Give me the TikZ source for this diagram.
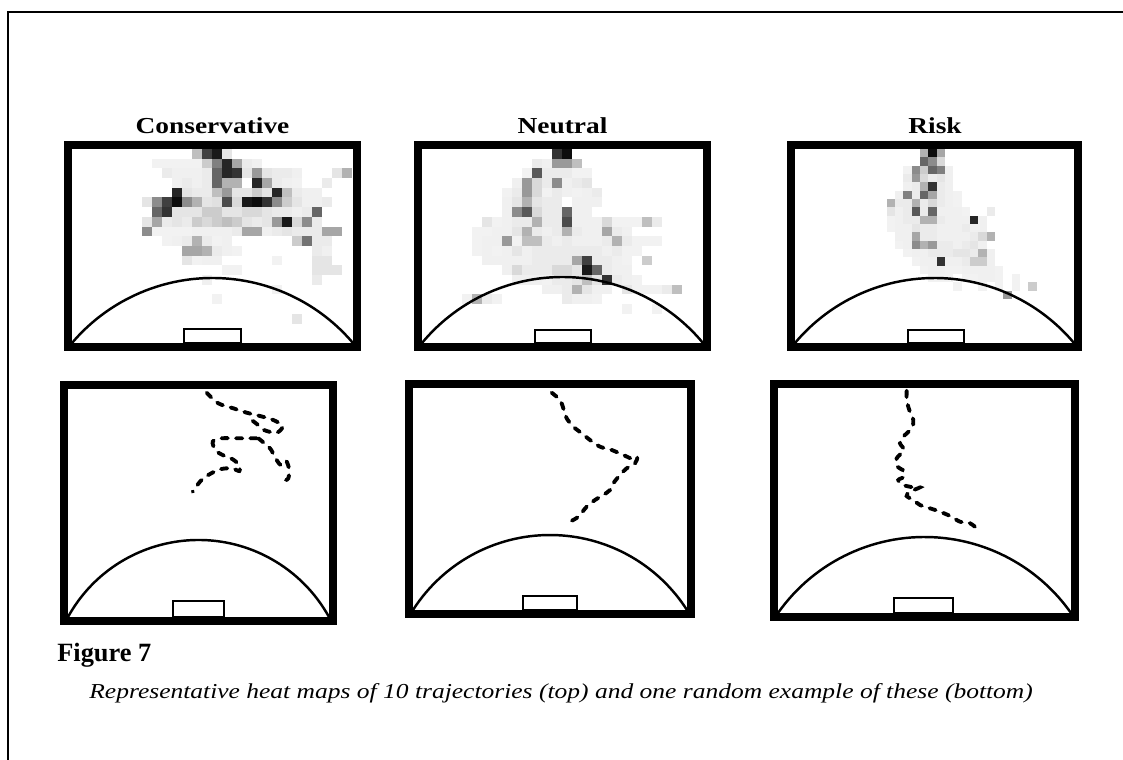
\documentclass[tikz,border=0pt]{standalone}
\usepackage{fontspec}
\setmainfont{Liberation Serif}
\newfontfamily\widefont{Liberation Serif}[FakeStretch=1.2]
\usepackage{tikz}
\definecolor{inkblack}{RGB}{0,0,0}

\begin{document}
\begin{tikzpicture}[x=0.02cm, y=-0.02cm,
        outerframe/.style={line width=0.85pt, inkblack},
        pitchborder/.style={line width=4.5pt, inkblack},
        pitcharc/.style={line width=1.4pt, inkblack},
        goalbox/.style={line width=1.1pt, inkblack},
        traj/.style={line width=2.2pt, inkblack, line cap=round, dash pattern=on 3.6pt off 4.6pt},
        paneltitle/.style={font=\widefont\fontsize{13}{15}\selectfont\bfseries, anchor=base, inner sep=0pt}]
        \useasboundingbox (0,0) rectangle (1123,760);

        % 外框
        \draw[outerframe] (8,760) -- (8,12) -- (1123,12);

        % 热力图 Conservative
        \begin{scope}
            \clip (72,149) rectangle (353,343);
            \foreach \cx/\ry/\lv in {8/1/5, 9/1/5, 17/1/8, 18/1/6, 10/2/6, 11/2/6, 12/2/6, 13/2/8, 17/2/10, 22/2/6,
                10/3/6, 12/3/6, 13/3/8, 20/3/8, 21/3/6, 22/3/5, 12/4/8, 13/4/8, 16/4/10, 17/4/10, 22/4/8, 23/4/6,
                24/4/6, 14/5/12, 23/5/6, 24/5/6, 25/5/8, 15/6/10, 19/6/10, 20/6/8, 21/6/8, 22/6/6, 23/6/8,
                9/7/8, 11/7/8, 18/7/8, 19/7/10, 24/7/8, 12/8/6, 13/8/6, 14/8/6, 15/8/6, 16/8/8, 19/8/6, 20/8/8,
                22/8/8, 23/8/8, 24/8/8, 10/9/6, 11/9/8, 13/9/8, 15/9/6, 24/9/8, 25/9/8, 14/10/8, 15/10/6,
                24/10/8, 25/10/6, 13/11/6, 14/11/6, 24/11/10, 25/11/10, 16/12/5}
                \fill[inkblack!\lv] (72+\cx*10, 149+\ry*9.7) rectangle ++(10,9.7);
            \foreach \cx/\ry/\lv in {12/0/25, 13/0/75, 14/0/90, 15/0/10,
                10/1/5, 11/1/5, 12/1/5, 13/1/20, 14/1/50, 15/1/85, 16/1/35,
                9/2/8, 14/2/60, 15/2/85, 16/2/80, 18/2/40, 19/2/10, 20/2/8, 21/2/8, 26/2/10, 27/2/30,
                11/3/8, 14/3/60, 15/3/30, 16/3/30, 18/3/85, 19/3/35, 25/3/8,
                10/4/85, 11/4/10, 14/4/25, 15/4/40, 18/4/20, 19/4/10, 20/4/85, 21/4/25,
                7/5/10, 8/5/45, 9/5/75, 10/5/95, 11/5/45, 12/5/30, 13/5/10, 15/5/70, 16/5/15,
                17/5/90, 18/5/95, 19/5/80, 20/5/45, 21/5/20, 22/5/10,
                8/6/60, 9/6/80, 10/6/10, 11/6/10, 12/6/10, 13/6/20, 14/6/20, 16/6/10, 17/6/15, 18/6/15, 24/6/60,
                7/7/10, 8/7/35, 10/7/10, 12/7/20, 13/7/15, 14/7/20, 15/7/25, 16/7/20, 17/7/10,
                20/7/40, 21/7/90, 22/7/15, 23/7/45,
                7/8/45, 8/8/5, 9/8/5, 10/8/5, 11/8/5, 17/8/35, 18/8/35, 21/8/10, 25/8/35, 26/8/35,
                12/9/30, 22/9/20, 23/9/55, 9/9/5, 14/9/5,
                11/10/35, 12/10/35, 13/10/30, 16/10/5,
                11/11/10, 12/11/5, 20/11/5,
                15/12/5, 24/12/10, 25/12/10, 26/12/10,
                13/13/6, 24/13/8, 20/14/5, 14/15/5, 22/17/10}
                \fill[inkblack!\lv] (72+\cx*10, 149+\ry*9.7) rectangle ++(10,9.7);
        \end{scope}

        % 热力图 Neutral
        \begin{scope}
            \clip (422,149) rectangle (703,343);
            \foreach \cx/\ry/\lv in {12/1/6, 10/2/5, 16/2/5, 9/3/6, 12/3/8, 14/3/6, 15/3/8, 8/4/5, 9/4/8, 13/4/8,
                14/4/6, 15/4/5, 16/4/6, 8/5/6, 12/5/8, 13/5/8, 15/5/6, 16/5/6, 17/5/6, 8/6/6, 12/6/8, 13/6/8,
                15/6/6, 16/6/6, 8/7/6, 9/7/8, 10/7/8, 12/7/8, 13/7/8, 15/7/6, 16/7/6, 17/7/6, 19/7/5, 20/7/5,
                21/7/5, 5/8/5, 6/8/5, 7/8/6, 8/8/6, 11/8/8, 12/8/6, 13/8/8, 15/8/8, 16/8/6, 17/8/6, 20/8/6,
                5/9/5, 6/9/6, 7/9/6, 12/9/8, 13/9/6, 14/9/8, 15/9/6, 16/9/6, 17/9/6, 18/9/8, 20/9/8, 22/9/5,
                23/9/5, 5/10/5, 6/10/6, 8/10/6, 10/10/6, 11/10/8, 13/10/8, 14/10/8, 15/10/8, 17/10/8, 18/10/6,
                19/10/8, 21/10/5, 11/11/8, 12/11/8, 13/11/8, 14/11/8, 17/11/8, 18/11/8, 19/11/6, 20/11/5,
                8/12/6, 10/12/8, 11/12/8, 12/12/8, 15/12/10, 18/12/8, 19/12/6, 20/12/6, 9/13/6, 10/13/6,
                11/13/6, 13/13/8, 14/13/8, 15/13/10, 17/13/10, 19/13/8, 20/13/6, 21/13/5, 12/14/6, 13/14/6,
                14/14/8, 17/14/6, 18/14/6, 21/14/5, 22/14/5, 23/14/5, 4/15/5, 7/15/5, 15/15/6, 16/15/6, 17/15/5}
                \fill[inkblack!\lv] (422+\cx*10, 149+\ry*9.7) rectangle ++(10,9.7);
            \foreach \cx/\ry/\lv in {13/0/80, 14/0/95,
                11/1/8, 13/1/40, 14/1/40, 15/1/25,
                11/2/65, 12/2/8, 13/2/8, 14/2/8, 15/2/5,
                10/3/40, 11/3/15, 13/3/45, 16/3/10,
                10/4/40, 11/4/15, 12/4/5, 17/4/8,
                9/5/10, 10/5/30, 11/5/10,
                9/6/45, 10/6/65, 11/6/15, 14/6/60,
                6/7/10, 7/7/5, 11/7/30, 14/7/70, 18/7/15, 22/7/25, 23/7/8,
                9/8/10, 10/8/30, 14/8/30, 18/8/35, 19/8/8,
                8/9/40, 9/9/5, 10/9/25, 11/9/25, 19/9/30, 21/9/5,
                7/10/5, 9/10/10, 12/10/8, 16/10/8, 20/10/5,
                6/11/6, 7/11/6, 8/11/6, 9/11/6, 10/11/6, 15/11/35, 16/11/75, 22/11/20,
                9/12/15, 13/12/15, 14/12/15, 16/12/90, 17/12/60,
                12/13/5, 16/13/25, 18/13/80,
                15/14/30, 16/14/10, 20/14/10, 24/14/8, 25/14/25,
                5/15/30, 6/15/8, 14/15/8, 20/16/5, 23/16/5}
                \fill[inkblack!\lv] (422+\cx*10, 149+\ry*9.7) rectangle ++(10,9.7);
        \end{scope}

        % 热力图 Risk
        \begin{scope}
            \clip (795,149) rectangle (1074,343);
            \foreach \cx/\ry/\lv in {13/2/5, 18/2/6, 13/3/8, 16/3/8, 18/3/6, 13/4/6, 17/4/8, 18/4/6, 12/5/6, 14/5/8,
                17/5/8, 18/5/6, 19/5/5, 13/6/8, 15/6/8, 17/6/8, 18/6/6, 19/6/5, 12/7/6, 13/7/8, 15/7/8, 17/7/6,
                18/7/6, 19/7/6, 20/7/5, 11/8/5, 12/8/6, 13/8/8, 14/8/8, 17/8/8, 18/8/6, 19/8/6, 20/8/6, 22/8/6,
                11/9/5, 13/9/6, 15/9/8, 16/9/8, 17/9/6, 18/9/6, 19/9/6, 21/9/6, 22/9/6, 12/10/6, 13/10/6,
                15/10/8, 16/10/8, 17/10/6, 18/10/6, 19/10/6, 20/10/6, 21/10/8, 12/11/5, 13/11/6, 17/11/8,
                18/11/8, 19/11/6, 20/11/8, 22/11/6, 13/12/5, 14/12/6, 15/12/6, 16/12/8, 17/12/8, 18/12/8,
                21/12/8, 23/12/6, 14/13/5, 15/13/6, 16/13/6, 18/13/6, 19/13/6, 20/13/8, 23/13/6, 16/14/6,
                17/14/6, 19/14/5, 20/14/6, 21/14/6, 22/14/6, 23/14/6, 17/15/5, 18/15/5, 21/15/5, 22/15/6,
                23/15/6, 24/15/5, 19/16/5, 22/16/5, 24/16/5, 26/16/5}
                \fill[inkblack!\lv] (795+\cx*8.33, 149+\ry*8.33) rectangle ++(8.33,8.33);
            \foreach \cx/\ry/\lv in {15/0/30, 16/0/95, 17/0/35,
                15/1/60, 16/1/45, 17/1/15,
                14/2/45, 15/2/20, 16/2/60, 17/2/50,
                14/3/40, 15/3/15, 17/3/10,
                14/4/8, 15/4/30, 16/4/80,
                13/5/50, 15/5/60, 16/5/35,
                11/6/30, 12/6/8, 14/6/30, 16/6/15,
                11/7/10, 14/7/65, 16/7/60, 23/7/8,
                15/8/30, 16/8/30, 21/8/85,
                12/9/6, 14/9/10, 20/9/8,
                14/10/35, 22/10/15, 23/10/30,
                14/11/45, 15/11/30, 16/11/40, 21/11/10,
                19/12/10, 20/12/10, 22/12/30,
                17/13/80, 21/13/20, 22/13/20,
                15/14/5, 18/14/5, 24/14/5, 16/15/5, 20/15/5, 26/15/5,
                28/16/20, 25/17/40}
                \fill[inkblack!\lv] (795+\cx*8.33, 149+\ry*8.33) rectangle ++(8.33,8.33);
        \end{scope}

        % 球场：圆弧、球门区、粗边框
        \foreach \xa/\ya/\xb/\yb/\ap/\ga/\gb/\gy in {72/149/353/343/278/184/241/329,
                422/149/703/343/277/535/591/330, 795/149/1074/343/278/908/964/330,
                68/389/329/617/540/173/224/601, 413/388/687/610/535/523/577/596,
                778/388/1071/613/537/894/953/598} {
            \pgfmathsetmacro\hc{(\xb-\xa)/2}
            \pgfmathsetmacro\sg{\yb-\ap}
            \pgfmathsetmacro\rad{\hc/2*(\hc/\sg)+\sg/2}
            \pgfmathsetmacro\ang{asin(\hc/\rad)}
            \draw[pitcharc] (\xa,\yb) arc[start angle=-90-\ang, end angle=-90+\ang, radius=\rad];
            \draw[goalbox] (\ga,\gy) rectangle (\gb,\yb);
            \draw[pitchborder] (\xa-4,\ya-4) rectangle (\xb+4,\yb+4);
        }

        % 轨迹 Conservative
        \draw[traj] plot[smooth, tension=0.5] coordinates {(206.7,392.7) (218.3,403.3) (233.3,408.3)
            (246.7,412.7) (260,416) (273.3,420) (282.7,426) (276.7,432.7) (264,430) (256,423.3) (246.7,416.7)};
        \draw[traj] plot[smooth, tension=0.5] coordinates {(258.3,438.3) (270,448.3) (275,457.3)
            (280.7,465) (286,460.7) (289.3,470) (288.3,478.3) (286,480)};
        \draw[traj] plot[smooth, tension=0.5] coordinates {(256.7,438.3) (240,438.3) (221.7,438.3)
            (212.7,441.7) (216,450.7) (224,455.7) (232.7,459.3) (239,465) (239.3,471) (231.7,468.3)
            (220,469.3) (208.3,475) (200,481.7) (192.7,491.7)};

        % 轨迹 Neutral
        \draw[traj] plot[smooth, tension=0.5] coordinates {(551.7,392.7) (560,400) (563.3,408.3)
            (566.7,418.3) (573.3,426.7) (581.7,433.3) (590,440) (600,446.7) (611.7,450) (623.3,455)
            (633.3,459.3) (637.3,457.3) (635,463.3) (626.7,468.3) (620,475) (613.3,483.3) (610,490)
            (603.3,495) (595,500) (586.7,506.7) (578.3,516.7) (570,521.7) (566,524)};

        % 轨迹 Risk
        \draw[traj] plot[smooth, tension=0.5] coordinates {(906.7,390.7) (906.7,400) (909.3,410)
            (913.3,420) (911.7,428.3) (903.3,436.7) (900,443.3) (904,450) (896.7,458.3) (897.3,466.7)
            (902.7,470) (904,476.7) (898.3,480) (903.3,485) (913.3,487.3) (920,487.3) (910,491.7)
            (906.7,496) (913.3,500) (920,505) (930,508.3) (940,511.7) (950,516) (960,521.7)
            (970,523.3) (976.7,528.3)};

        % 标题
        \node[paneltitle] (tcons) at (212.5,134) {Conservative};
        \node[paneltitle] (tneut) at (562.5,134) {Neutral};
        \node[paneltitle] (trisk) at (935,134) {Risk};

        % 图注
        \node[anchor=base west, inner sep=0pt, font=\fontsize{15}{17}\selectfont\bfseries] (fignum) at (57,661) {Figure 7};
        \node[anchor=base west, inner sep=0pt, font=\widefont\fontsize{12.1}{14}\selectfont\itshape] (figcap) at (89,698)
            {Representative heat maps of 10 trajectories (top) and one random example of these (bottom)};
\end{tikzpicture}
\end{document}
